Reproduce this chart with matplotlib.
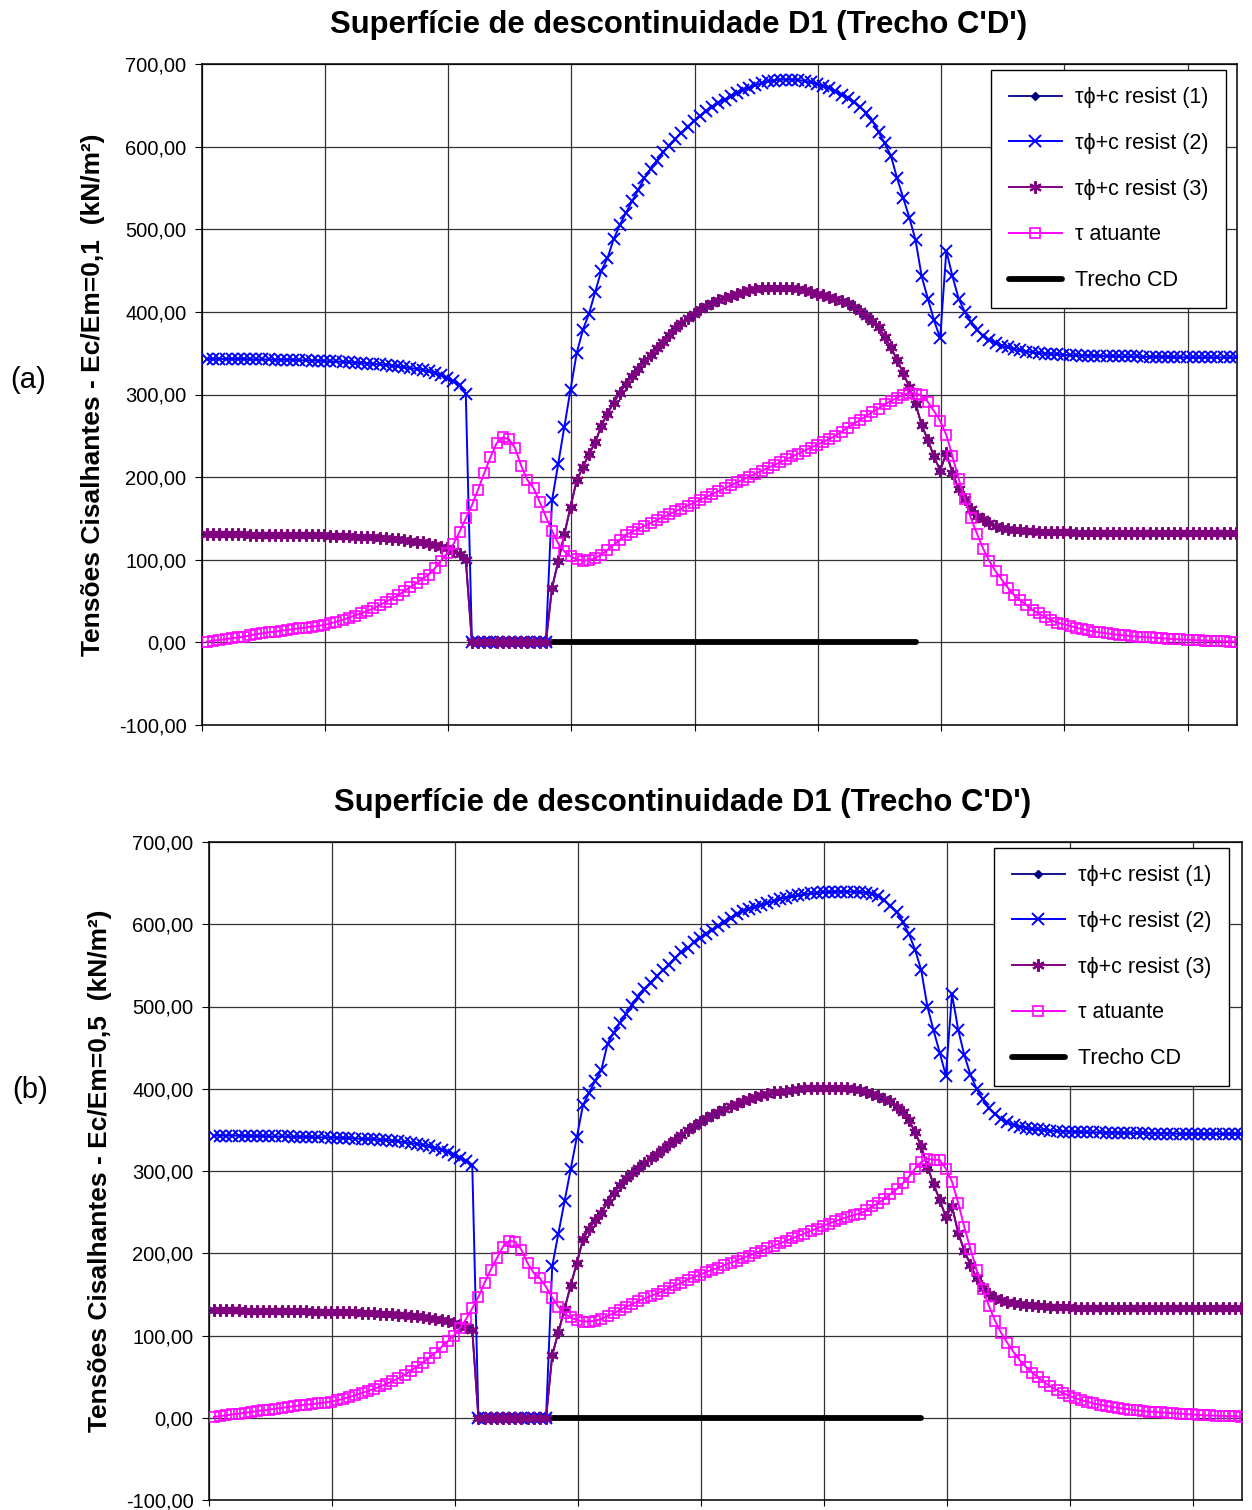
import numpy as np
import matplotlib
matplotlib.use('Agg')
import matplotlib.pyplot as plt
from matplotlib.ticker import FuncFormatter, MultipleLocator

plt.rcParams['font.family'] = ['Liberation Sans', 'DejaVu Sans']

# ---------------- data ----------------
TITLE = "Superfície de descontinuidade D1 (Trecho C'D')"
LABELS = ["τϕ+c resist (1)", "τϕ+c resist (2)", "τϕ+c resist (3)", "τ atuante", "Trecho CD"]
YLABEL_A = "Tensões Cisalhantes - Ec/Em=0,1  (kN/m²)"
YLABEL_B = "Tensões Cisalhantes - Ec/Em=0,5  (kN/m²)"

# (a) Ec/Em = 0,1
top_res2 = [
    343, 343, 343, 343, 343, 343, 343, 342.5, 342.5, 342.5,
    342.5, 342, 342, 342, 342, 341.5, 341.5, 341, 341, 340.5,
    340, 340, 339.5, 339, 338.5, 338, 337.5, 337, 336.5, 336,
    335, 334, 333, 332, 331, 330, 328, 326, 323, 320,
    316, 311, 301, 0, 0, 0, 0, 0, 0, 0,
    0, 0, 0, 0, 0, 0, 172, 216, 261, 306,
    350, 378, 398, 424, 450, 465, 488, 505, 520, 534,
    548, 562, 573, 583, 593, 601, 609, 617, 624, 631,
    637, 643, 648, 653, 657, 661, 665, 668.5, 671.5, 674,
    677, 679, 680, 681, 681, 681, 680.5, 679.5, 678, 676,
    673.5, 670.5, 667, 663, 659, 654, 648, 641, 631, 618,
    604, 589, 562, 538, 514, 487, 443, 416, 390, 368,
    474, 443, 416, 400, 388, 378, 371, 366, 362, 359,
    357, 355, 353.5, 352, 351, 350, 349.5, 349, 348.5, 348,
    347.5, 347.5, 347, 347, 347, 346.5, 346.5, 346.5, 346, 346,
    346, 346, 345.5, 345.5, 345.5, 345.5, 345.5, 345, 345, 345,
    345, 345, 345, 345, 345, 345, 345, 345,
]
top_res3 = [
    131, 131, 131, 131, 131, 131, 131, 130.5, 130.5, 130.5,
    130.5, 130.5, 130.5, 130, 130, 130, 130, 129.5, 129.5, 129.5,
    129, 129, 128.5, 128.5, 128, 128, 127.5, 127, 126.5, 126,
    125.5, 125, 124, 123, 122, 121, 119.5, 118, 116, 114,
    111, 107, 100, 0, 0, 0, 0, 0, 0, 0,
    0, 0, 0, 0, 0, 0, 66, 98, 131, 164,
    196, 212, 228, 242, 262, 277, 290, 302, 313, 322,
    331, 340, 348, 356, 364, 372, 380, 387, 393, 398,
    403, 407, 411, 414, 417, 419.5, 422, 424, 426, 427.5,
    428.5, 429, 429.5, 429.5, 429.5, 429, 428, 426.5, 424.5, 422,
    420, 418, 416, 413.5, 410.5, 406, 401, 395, 389, 382,
    370, 357, 342, 326, 309, 289, 263, 245, 225, 208,
    229, 205, 186, 173, 161, 153, 149, 145, 141, 139,
    137.5, 136.5, 135.5, 135, 134.5, 134, 134, 133.5, 133.5, 133,
    133, 132.5, 132.5, 132.5, 132.5, 132.5, 132.5, 132.5, 132.5, 132.5,
    132.5, 132, 132, 132, 132, 132, 132, 132, 132, 132,
    132, 132, 132, 132, 132, 132, 132, 132,
]
top_res1 = list(top_res3)   # series (1) lies under series (3)
top_tau = [
    1, 2, 3, 4, 5, 6, 7, 8.5, 10, 11,
    12, 13, 14, 15, 16, 17, 18, 19, 20, 21,
    23, 25, 27, 30, 32.5, 35, 38, 41, 45, 49,
    53, 57, 62, 67, 72, 77, 82, 90, 99, 108,
    119, 134, 150, 166, 185, 205, 224, 241, 248, 246,
    235, 213.5, 196.5, 186.5, 170, 152, 135, 120, 110, 104,
    100.5, 99, 99.5, 102, 106, 112, 118, 124, 130, 134,
    137.5, 141, 144.5, 148, 151.5, 155, 158.5, 162, 165.5, 169,
    172.5, 176, 179.5, 183, 186.5, 190, 193.5, 197, 200.5, 204,
    207.5, 211, 214.5, 218, 221.5, 225, 228.5, 232, 235.5, 239,
    242.5, 246, 250, 255, 260, 265, 269, 274, 279, 283,
    288, 292, 296, 299.5, 302, 301, 299, 291, 280, 268,
    251, 225, 198, 173, 150, 131, 113, 98, 86, 76,
    66, 57, 51, 45, 39, 35, 31, 27, 24, 22,
    20, 18, 16, 14.5, 13, 12, 11, 10, 9, 8.5,
    7.5, 7, 6.5, 6, 5.5, 5, 4.5, 4, 3.5, 3.2,
    2.8, 2.5, 2.1, 1.8, 1.5, 1.2, 1, 0.8,
]
top_trecho_x = [43, 115]
top_trecho_y = [0, 0]

# (b) Ec/Em = 0,5
bot_res2 = [
    343, 343, 343, 343, 343, 342.5, 342.5, 342.5, 342.5, 342,
    342, 342, 342, 341.5, 341.5, 341.5, 341, 341, 341, 340.5,
    340.5, 340, 340, 339.5, 339, 339, 338.5, 338, 337.5, 337,
    336, 335, 334, 333, 331.5, 330, 328, 326, 323, 320,
    316, 312, 307, 0, 0, 0, 0, 0, 0, 0,
    0, 0, 0, 0, 0, 184, 224, 263, 302, 341,
    380, 395, 410, 423, 455, 468, 480, 491, 502, 512,
    521, 529, 537, 544, 551, 559, 566, 571, 578, 583,
    588, 593, 598, 603, 608, 612, 616, 619, 621, 623,
    626, 628, 631, 632.5, 634, 635, 636.5, 637.5, 638, 639,
    639, 639.5, 639.5, 639.5, 639.5, 639, 638.5, 637, 634.5, 629.5,
    622, 615, 603, 588, 569, 544, 500, 471, 444, 416,
    515, 472, 441, 417, 400, 387, 376, 369, 363, 359,
    356, 354, 352.5, 351, 350.5, 350, 349, 348.5, 348, 348,
    347.5, 347.5, 347, 347, 347, 346.5, 346.5, 346.5, 346, 346,
    346, 346, 345.5, 345.5, 345.5, 345.5, 345.5, 345, 345, 345,
    345, 345, 345, 345, 345, 345, 345, 345,
]
bot_res3 = [
    130.5, 130.5, 130.5, 130.5, 130.5, 130, 130, 130, 130, 130,
    130, 129.5, 129.5, 129.5, 129.5, 129.5, 129, 129, 129, 129,
    128.5, 128.5, 128, 128, 127.5, 127.5, 127, 126.5, 126, 126,
    125.5, 125, 124, 123.5, 122.5, 121.5, 120.5, 119, 117.5, 115.5,
    113, 110, 107, 0, 0, 0, 0, 0, 0, 0,
    0, 0, 0, 0, 0, 76, 104, 132, 161, 188,
    217, 230, 240, 249, 262, 273, 283, 291, 298, 304,
    310, 316, 321, 327, 333, 338, 344, 350, 355, 360,
    364, 368, 372, 375.5, 379, 382, 385, 387.5, 390, 392,
    394, 395.5, 396.5, 397, 398, 399.5, 400.5, 401, 401, 401,
    401, 401, 401, 400.5, 399.5, 398, 396, 394, 391, 388,
    385, 378, 372, 362, 347, 330, 305, 284, 265, 244,
    257, 225, 203, 186, 170, 158, 151, 146, 143, 140.5,
    139, 138, 137, 136.5, 136, 135.5, 135, 135, 134.5, 134.5,
    134, 134, 134, 134, 134, 134, 134, 134, 134, 134,
    134, 133.5, 133.5, 133.5, 133.5, 133.5, 133.5, 133.5, 133.5, 133.5,
    133.5, 133.5, 133.5, 133.5, 133.5, 133.5, 133.5, 133.5,
]
bot_res1 = list(bot_res3)
bot_tau = [
    1, 2, 3, 4, 5, 6, 7, 8, 9, 10,
    11, 12, 13, 14, 15, 16, 16.5, 17.5, 18.5, 19.5,
    21, 23, 25, 27.5, 30, 32.5, 35, 38, 41, 44.5,
    48, 52, 57, 62, 67, 73, 79, 86, 93, 100,
    109, 120, 133, 147, 164, 180, 194, 208, 215, 214,
    204, 188, 176, 169.5, 159, 146, 135, 127, 122, 119,
    117, 117, 118, 120, 124, 127, 131, 135, 138, 142,
    145, 148, 151, 154, 158, 161, 164, 168, 171, 174,
    177, 180, 182.5, 185.5, 188.5, 191, 194, 197, 200, 203,
    206, 209, 212, 215, 218, 221, 224, 227, 230, 233,
    236, 239, 241.5, 244, 246.5, 248, 252, 257, 261, 266,
    272, 278, 285, 293, 303, 311, 315, 313.5, 313.5, 303,
    287, 261.5, 232, 205, 180, 156, 136, 118, 103, 91,
    80, 70, 62, 55, 49, 43, 38, 34, 30, 27,
    24, 21.5, 19.5, 17.5, 16, 14.5, 13, 12, 11, 10,
    9, 8, 7.5, 7, 6.5, 6, 5.5, 5, 4.5, 4,
    3.5, 3, 2.8, 2.5, 2.2, 2, 1.8, 1.5,
]
bot_trecho_x = [43, 115]
bot_trecho_y = [0, 0]


def fmt_comma(v, pos):
    return f"{v:.2f}".replace('.', ',')


def draw_panel(ax, res1, res2, res3, tau, tr_x, tr_y, ylabel, legend_anchor):
    x = np.arange(len(res2))
    ax.plot(tr_x, tr_y, color='black', lw=4.2, solid_capstyle='round',
            label=LABELS[4], zorder=2)
    ax.plot(x, res1, color='#000080', lw=1.3, marker='D', ms=4,
            label=LABELS[0], zorder=3)
    ax.plot(x, res2, color='#0000FF', lw=1.4, marker='x', ms=8, mew=1.4,
            label=LABELS[1], zorder=3)
    ax.plot(x, res3, color='#800080', lw=1.4, marker=(6, 2, 0), ms=9, mew=1.5,
            label=LABELS[2], zorder=3)
    ax.plot(x, tau, color='#FF00FF', lw=1.4, marker='s', ms=7, mew=1.2,
            mfc='none', label=LABELS[3], zorder=4)

    ax.set_xlim(-0.85, 167.15)
    ax.set_ylim(-100, 700)
    ax.set_xticks(np.arange(-0.85, 167, 20))
    ax.xaxis.set_ticklabels([])
    ax.yaxis.set_major_locator(MultipleLocator(100))
    ax.yaxis.set_major_formatter(FuncFormatter(fmt_comma))
    ax.tick_params(axis='y', labelsize=14.5, length=5, direction='out', pad=6)
    ax.tick_params(axis='x', length=4, direction='out')
    ax.grid(True, color='0.2', lw=0.9)
    ax.set_axisbelow(True)
    for sp in ax.spines.values():
        sp.set_linewidth(1.1)
        sp.set_color('black')

    ax.set_ylabel(ylabel, fontsize=19, fontweight='bold')
    ax.yaxis.set_label_coords(-0.094, 0.5)

    handles, labels = ax.get_legend_handles_labels()
    order = [1, 2, 3, 4, 0]
    leg = ax.legend([handles[i] for i in order], [labels[i] for i in order],
                    loc='upper right', bbox_to_anchor=legend_anchor,
                    borderaxespad=0, fontsize=15.5, frameon=True, fancybox=False,
                    framealpha=1, edgecolor='black', borderpad=0.8,
                    labelspacing=1.15, handlelength=2.5, handletextpad=0.6)
    leg.get_frame().set_linewidth(1.0)
    leg.set_zorder(10)


fig = plt.figure(figsize=(12.52, 15.10), dpi=100)

ax_a = fig.add_axes([201.8 / 1252, 1 - 725 / 1510, 1035 / 1252, 661 / 1510])
ax_b = fig.add_axes([208.7 / 1252, 1 - 1500 / 1510, 1033.3 / 1252, 658 / 1510])

draw_panel(ax_a, top_res1, top_res2, top_res3, top_tau, top_trecho_x, top_trecho_y,
           YLABEL_A, (0.9896, 0.991))
draw_panel(ax_b, bot_res1, bot_res2, bot_res3, bot_tau, bot_trecho_x, bot_trecho_y,
           YLABEL_B, (0.9874, 0.991))

fig.text(679 / 1252, 1 - 25 / 1510, TITLE, ha='center', va='center',
         fontsize=22.3, fontweight='bold')
fig.text(683 / 1252, 1 - 803 / 1510, TITLE, ha='center', va='center',
         fontsize=22.3, fontweight='bold')
fig.text(28 / 1252, 1 - 380 / 1510, "(a)", ha='center', va='center', fontsize=21)
fig.text(30 / 1252, 1 - 1090 / 1510, "(b)", ha='center', va='center', fontsize=21)

fig.savefig('out.png', dpi=100)
